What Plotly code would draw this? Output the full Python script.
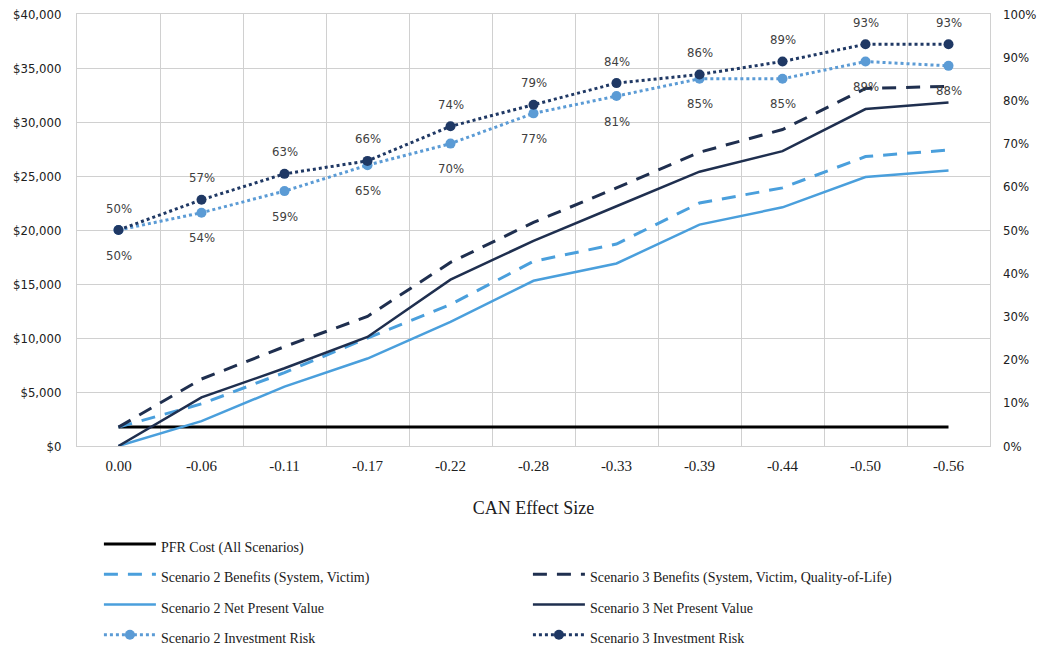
import plotly.graph_objects as go

categories = ["0.00", "-0.06", "-0.11", "-0.17", "-0.22", "-0.28", "-0.33", "-0.39", "-0.44", "-0.50", "-0.56"]
pfr_cost = [1750] * 11
s2_benefits = [1750, 3900, 6800, 10000, 13100, 17100, 18700, 22500, 23900, 26800, 27400]
s3_benefits = [1750, 6200, 9200, 12000, 17000, 20700, 23900, 27200, 29300, 33100, 33300]
s2_npv = [0, 2300, 5500, 8100, 11500, 15300, 16900, 20500, 22100, 24900, 25500]
s3_npv = [0, 4500, 7200, 10100, 15400, 19000, 22200, 25400, 27300, 31200, 31800]
s2_risk = [0.50, 0.54, 0.59, 0.65, 0.70, 0.77, 0.81, 0.85, 0.85, 0.89, 0.88]
s3_risk = [0.50, 0.57, 0.63, 0.66, 0.74, 0.79, 0.84, 0.86, 0.89, 0.93, 0.93]

LIGHT = "#4a9fdc"
LIGHT_MK = "#5b9bd5"
DARK = "#1f2f4f"
DARK_MK = "#1f3864"
SANS = "DejaVu Sans Condensed, DejaVu Sans"


def lg(name):
    return f"<span style='font-size:14px'>{name}</span>"


fig = go.Figure()
fig.add_trace(go.Scatter(x=categories, y=pfr_cost, name=lg("PFR Cost (All Scenarios)"), mode="lines",
                         line=dict(color="#000000", width=3)))
fig.add_trace(go.Scatter(x=[None], y=[None], name=" ", mode="lines",
                         line=dict(color="rgba(0,0,0,0)", width=0), hoverinfo="skip"))
fig.add_trace(go.Scatter(x=categories, y=s2_benefits, name=lg("Scenario 2 Benefits (System, Victim)"), mode="lines",
                         line=dict(color=LIGHT, width=3, dash="14px,10px")))
fig.add_trace(go.Scatter(x=categories, y=s3_benefits, name=lg("Scenario 3 Benefits (System, Victim, Quality-of-Life)"), mode="lines",
                         line=dict(color=DARK, width=3, dash="14px,10px")))
fig.add_trace(go.Scatter(x=categories, y=s2_npv, name=lg("Scenario 2 Net Present Value"), mode="lines",
                         line=dict(color=LIGHT, width=2.5)))
fig.add_trace(go.Scatter(x=categories, y=s3_npv, name=lg("Scenario 3 Net Present Value"), mode="lines",
                         line=dict(color=DARK, width=2.5)))
fig.add_trace(go.Scatter(x=categories, y=s2_risk, name=lg("Scenario 2 Investment Risk"), mode="lines+markers",
                         yaxis="y2", line=dict(color=LIGHT_MK, width=3, dash="dot"),
                         marker=dict(color=LIGHT_MK, size=10)))
fig.add_trace(go.Scatter(x=categories, y=s3_risk, name=lg("Scenario 3 Investment Risk"), mode="lines+markers",
                         yaxis="y2", line=dict(color=DARK_MK, width=3, dash="dot"),
                         marker=dict(color=DARK_MK, size=10)))

annotations = []
for i, v in enumerate(s3_risk):
    annotations.append(dict(x=i, y=v, xref="x", yref="y2", text=f"{round(v*100)}%", showarrow=False,
                            yshift=22, font=dict(family=SANS, size=13, color="#404040")))
for i, v in enumerate(s2_risk):
    annotations.append(dict(x=i, y=v, xref="x", yref="y2", text=f"{round(v*100)}%", showarrow=False,
                            yshift=-25, font=dict(family=SANS, size=13, color="#404040")))

fig.update_layout(
    width=1050, height=653,
    paper_bgcolor="white", plot_bgcolor="white",
    margin=dict(l=77, r=60, t=14, b=207, autoexpand=False),
    font=dict(family=SANS, size=13, color="#404040"),
    annotations=annotations,
    xaxis=dict(
        type="category", range=[-0.5, len(categories) - 0.5], tickson="boundaries",
        showgrid=True, gridcolor="#d0d0d0", gridwidth=1,
        ticks="", tickfont=dict(family="Liberation Serif", size=15, color="#202020"), ticklabelstandoff=6,
        title=dict(text="CAN Effect Size", font=dict(family="Liberation Serif", size=18, color="#202020"), standoff=28),
        showline=True, linecolor="#d0d0d0", mirror=True, zeroline=False,
    ),
    yaxis=dict(
        range=[0, 40000], dtick=5000, tickformat="$,.0f", showgrid=True, gridcolor="#d0d0d0",
        tickfont=dict(family=SANS, size=13, color="#202020"), zeroline=False,
        showline=True, linecolor="#d0d0d0", mirror=True, ticks="", ticklabelstandoff=12,
    ),
    yaxis2=dict(
        range=[0, 1], dtick=0.1, tickformat=".0%", overlaying="y", side="right", showgrid=False,
        tickfont=dict(family=SANS, size=13, color="#202020"), zeroline=False,
        ticklabelstandoff=12,
    ),
    legend=dict(
        orientation="h", x=0.024, y=-0.18, xanchor="left", yanchor="top",
        entrywidth=362, entrywidthmode="pixels", itemwidth=52,
        font=dict(family="Liberation Serif", size=21, color="#202020"),
        traceorder="normal",
    ),
    showlegend=True,
)

fig.write_html("out.html", config={"displayModeBar": False},
               post_script="document.body.style.margin='0';document.body.style.overflow='hidden';")
